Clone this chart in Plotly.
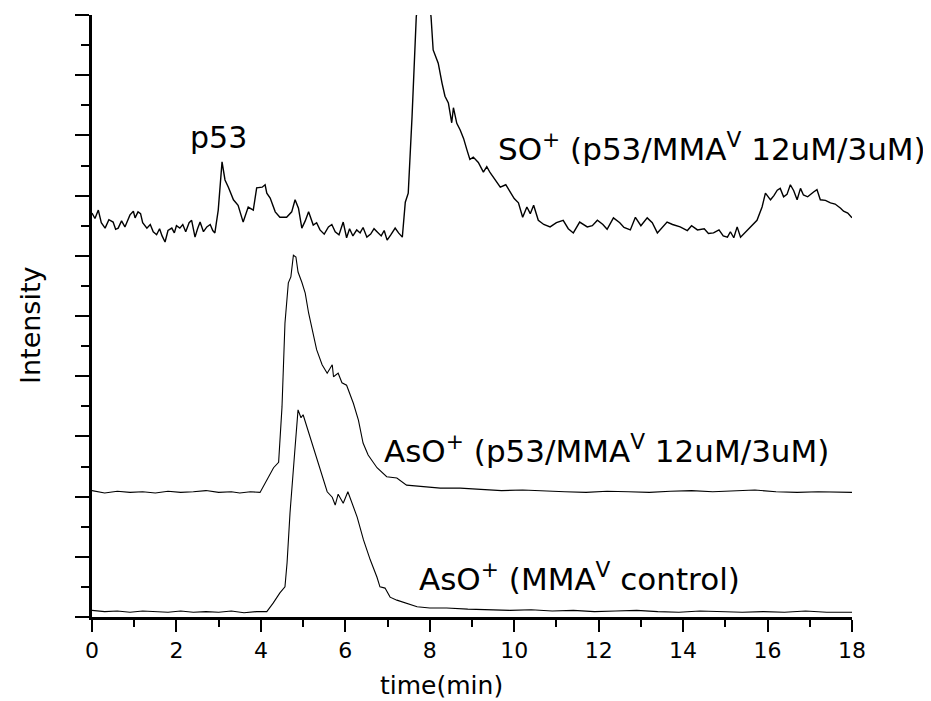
import plotly.graph_objects as go

# ---------------- data ----------------
# SO+ (p53/MMA^V 12uM/3uM)
so_t = [0, 0.07, 0.15, 0.22, 0.31, 0.4, 0.5, 0.56, 0.62, 0.7, 0.78, 0.9, 0.98, 1.02, 1.09, 1.15,
        1.2, 1.3, 1.38, 1.45, 1.53, 1.6, 1.66, 1.73, 1.8, 1.89, 1.95, 2.0, 2.08, 2.15, 2.22, 2.3,
        2.36, 2.44, 2.5, 2.56, 2.64, 2.72, 2.8, 2.86, 2.91, 2.99, 3.08, 3.15, 3.23, 3.35, 3.46,
        3.58, 3.7, 3.82, 3.9, 4.03, 4.1, 4.14, 4.22, 4.34, 4.45, 4.61, 4.73, 4.81, 4.89, 4.97,
        5.05, 5.13, 5.24, 5.32, 5.4, 5.5, 5.6, 5.68, 5.76, 5.85, 5.95, 6.03, 6.1, 6.18, 6.27,
        6.35, 6.42, 6.51, 6.6, 6.68, 6.75, 6.85, 6.92, 6.99, 7.08, 7.18, 7.26, 7.35, 7.42, 7.49,
        7.58, 7.68, 7.85, 8.03, 8.08, 8.2, 8.29, 8.36, 8.44, 8.52, 8.56, 8.64, 8.72, 8.8, 8.88,
        8.95, 9.03, 9.15, 9.27, 9.35, 9.43, 9.55, 9.67, 9.8, 9.91, 10.0, 10.1, 10.2, 10.3, 10.38,
        10.46, 10.52, 10.57, 10.7, 10.85, 11.0, 11.16, 11.28, 11.4, 11.55, 11.73, 11.85, 11.97,
        12.1, 12.2, 12.35, 12.5, 12.6, 12.75, 12.87, 13.0, 13.15, 13.27, 13.39, 13.5, 13.62,
        13.75, 13.93, 14.1, 14.2, 14.34, 14.5, 14.6, 14.72, 14.85, 14.95, 15.05, 15.12, 15.2,
        15.28, 15.36, 15.6, 15.75, 15.87, 15.95, 16.07, 16.15, 16.23, 16.3, 16.38, 16.46, 16.54,
        16.62, 16.7, 16.78, 16.85, 16.95, 17.09, 17.17, 17.25, 17.37, 17.49, 17.6, 17.73, 17.8,
        17.9, 18.0]
so_i = [6.71, 6.62, 6.76, 6.55, 6.46, 6.60, 6.56, 6.44, 6.46, 6.58, 6.48, 6.68, 6.74, 6.63, 6.73,
        6.70, 6.55, 6.46, 6.52, 6.40, 6.35, 6.45, 6.33, 6.23, 6.42, 6.46, 6.38, 6.50, 6.46, 6.52,
        6.40, 6.55, 6.59, 6.31, 6.45, 6.56, 6.40, 6.48, 6.52, 6.42, 6.38, 6.76, 7.56, 7.26, 7.14,
        6.93, 6.84, 6.56, 6.81, 6.76, 7.13, 7.14, 7.18, 7.04, 6.96, 6.73, 6.64, 6.64, 6.73, 6.93,
        6.79, 6.46, 6.58, 6.73, 6.51, 6.55, 6.43, 6.36, 6.48, 6.52, 6.40, 6.35, 6.56, 6.30, 6.45,
        6.33, 6.43, 6.38, 6.47, 6.31, 6.36, 6.45, 6.40, 6.33, 6.42, 6.26, 6.35, 6.46, 6.38, 6.31,
        6.89, 7.04, 8.31, 9.97, 11.0, 9.97, 9.42, 9.20, 8.87, 8.65, 8.54, 8.21, 8.46, 8.20, 8.09,
        7.95, 7.76, 7.60, 7.64, 7.55, 7.39, 7.48, 7.38, 7.25, 7.14, 7.18, 7.04, 6.95, 6.88, 6.64,
        6.81, 6.70, 6.84, 6.72, 6.59, 6.52, 6.48, 6.55, 6.59, 6.45, 6.38, 6.56, 6.48, 6.50, 6.59,
        6.52, 6.44, 6.63, 6.55, 6.47, 6.43, 6.64, 6.50, 6.63, 6.55, 6.38, 6.46, 6.56, 6.52, 6.48,
        6.42, 6.50, 6.43, 6.45, 6.37, 6.38, 6.43, 6.33, 6.31, 6.40, 6.30, 6.48, 6.31, 6.48, 6.59,
        6.81, 7.04, 6.93, 7.00, 7.09, 7.12, 6.98, 7.02, 7.18, 7.08, 6.93, 7.12, 7.01, 6.98, 7.06,
        7.10, 6.93, 6.92, 6.88, 6.86, 6.79, 6.74, 6.71, 6.63]

# AsO+ (p53/MMA^V 12uM/3uM)
as1_t = [0, 0.3, 0.6, 0.9, 1.2, 1.5, 1.8, 2.1, 2.4, 2.7, 3.0, 3.3, 3.5, 3.75, 3.98, 4.14, 4.3,
         4.42, 4.5, 4.57, 4.65, 4.71, 4.77, 4.83, 4.88, 4.97, 5.05, 5.13, 5.21, 5.32, 5.45, 5.57,
         5.69, 5.72, 5.83, 5.92, 6.03, 6.19, 6.31, 6.42, 6.54, 6.75, 6.98, 7.22, 7.45, 7.84, 8.25,
         8.72, 9.2, 9.7, 10.2, 10.7, 11.2, 11.7, 12.2, 12.7, 13.2, 13.7, 14.2, 14.7, 15.2, 15.7,
         16.2, 16.7, 17.2, 17.6, 18.0]
as1_i = [2.10, 2.06, 2.09, 2.07, 2.08, 2.06, 2.09, 2.07, 2.08, 2.10, 2.07, 2.08, 2.06, 2.08, 2.07,
         2.28, 2.48, 2.57, 3.49, 4.88, 5.55, 5.65, 6.01, 5.98, 5.73, 5.56, 5.38, 5.05, 4.80, 4.44,
         4.19, 4.05, 4.19, 3.99, 4.05, 3.89, 3.85, 3.55, 3.27, 2.89, 2.69, 2.48, 2.33, 2.31, 2.19,
         2.16, 2.14, 2.14, 2.12, 2.10, 2.11, 2.09, 2.08, 2.07, 2.09, 2.08, 2.07, 2.09, 2.10, 2.08,
         2.09, 2.11, 2.08, 2.07, 2.08, 2.07, 2.07]

# AsO+ (MMA^V control)
as2_t = [0, 0.3, 0.6, 0.9, 1.2, 1.5, 1.8, 2.1, 2.4, 2.7, 3.0, 3.3, 3.6, 3.9, 4.14, 4.29, 4.45,
         4.57, 4.62, 4.69, 4.76, 4.81, 4.88, 4.95, 5.0, 5.09, 5.21, 5.32, 5.45, 5.57, 5.69, 5.76,
         5.83, 5.95, 6.06, 6.16, 6.28, 6.43, 6.59, 6.75, 6.82, 6.94, 7.06, 7.22, 7.46, 7.7, 8.0,
         8.4, 8.9, 9.4, 9.9, 10.4, 10.9, 11.4, 11.9, 12.4, 12.9, 13.4, 13.9, 14.4, 14.9, 15.4,
         15.9, 16.4, 16.9, 17.4, 18.0]
as2_i = [0.11, 0.09, 0.10, 0.08, 0.10, 0.09, 0.08, 0.10, 0.08, 0.09, 0.08, 0.10, 0.07, 0.09, 0.09,
         0.23, 0.40, 0.50, 0.90, 1.73, 2.45, 2.82, 3.44, 3.31, 3.36, 3.16, 2.89, 2.61, 2.33, 2.08,
         1.99, 1.86, 2.04, 1.89, 2.08, 1.89, 1.66, 1.28, 0.95, 0.66, 0.50, 0.48, 0.33, 0.28, 0.23,
         0.17, 0.15, 0.15, 0.13, 0.12, 0.11, 0.12, 0.10, 0.11, 0.09, 0.10, 0.11, 0.09, 0.08, 0.10,
         0.09, 0.08, 0.09, 0.08, 0.10, 0.08, 0.08]

x_ticks = [0, 2, 4, 6, 8, 10, 12, 14, 16, 18]
x_minor = [1, 3, 5, 7, 9, 11, 13, 15, 17]

FONT = "DejaVu Sans"

fig = go.Figure()
fig.add_trace(go.Scatter(x=so_t, y=so_i, mode="lines",
                         line=dict(color="black", width=1.4), showlegend=False))
fig.add_trace(go.Scatter(x=as1_t, y=as1_i, mode="lines",
                         line=dict(color="black", width=1.1), showlegend=False))
fig.add_trace(go.Scatter(x=as2_t, y=as2_i, mode="lines",
                         line=dict(color="black", width=1.1), showlegend=False))

label_font = dict(family=FONT, size=31, color="black")
fig.add_annotation(x=3.0, y=7.96, xref="x", yref="y", text="p53", showarrow=False,
                   xanchor="center", yanchor="middle", font=dict(family=FONT, size=30, color="black"))
fig.add_annotation(x=9.57, y=7.80, xref="x", yref="y",
                   text="SO<sup>+</sup> (p53/MMA<sup>V</sup> 12uM/3uM)", showarrow=False,
                   xanchor="left", yanchor="middle", font=label_font)
fig.add_annotation(x=6.88, y=2.79, xref="x", yref="y",
                   text="AsO<sup>+</sup> (p53/MMA<sup>V</sup> 12uM/3uM)", showarrow=False,
                   xanchor="left", yanchor="middle", font=label_font)
fig.add_annotation(x=7.70, y=0.66, xref="x", yref="y",
                   text="AsO<sup>+</sup> (MMA<sup>V</sup> control)", showarrow=False,
                   xanchor="left", yanchor="middle", font=label_font)
fig.add_annotation(x=8.27, y=-0.113, xref="x", yref="paper", text="time(min)",
                   showarrow=False, xanchor="center", yanchor="middle",
                   font=dict(family=FONT, size=25, color="black"))
fig.add_annotation(x=-0.0816, y=0.485, xref="paper", yref="paper", text="Intensity",
                   showarrow=False, textangle=-90, xanchor="center", yanchor="middle",
                   font=dict(family=FONT, size=27, color="black"))

xaxis = dict(range=[0, 18], tickmode="array", tickvals=x_ticks,
             ticktext=[str(v) for v in x_ticks],
             ticks="outside", ticklen=12, tickwidth=2, tickcolor="black",
             showline=True, linewidth=2.5, linecolor="black", mirror=False,
             showgrid=False, zeroline=False,
             tickfont=dict(family=FONT, size=22, color="black"),
             minor=dict(tickmode="array", tickvals=x_minor, ticks="outside",
                        ticklen=7, tickwidth=2, tickcolor="black", showgrid=False))
yaxis = dict(range=[0, 10], dtick=1, tick0=0, showticklabels=False,
             ticks="outside", ticklen=14, tickwidth=2, tickcolor="black",
             showline=True, linewidth=2.5, linecolor="black", mirror=False,
             showgrid=False, zeroline=False,
             minor=dict(dtick=0.5, tick0=0, ticks="outside", ticklen=8, tickwidth=2,
                        tickcolor="black", showgrid=False))

# the page body adds an 8px offset, so the figure is sized to fit the 931x701 window
fig.update_layout(width=923, height=693, plot_bgcolor="white", paper_bgcolor="white",
                  margin=dict(l=84, r=79, t=7, b=84), showlegend=False,
                  xaxis=xaxis, yaxis=yaxis,
                  font=dict(family=FONT, size=22, color="black"))

fig.write_html("out.html")
